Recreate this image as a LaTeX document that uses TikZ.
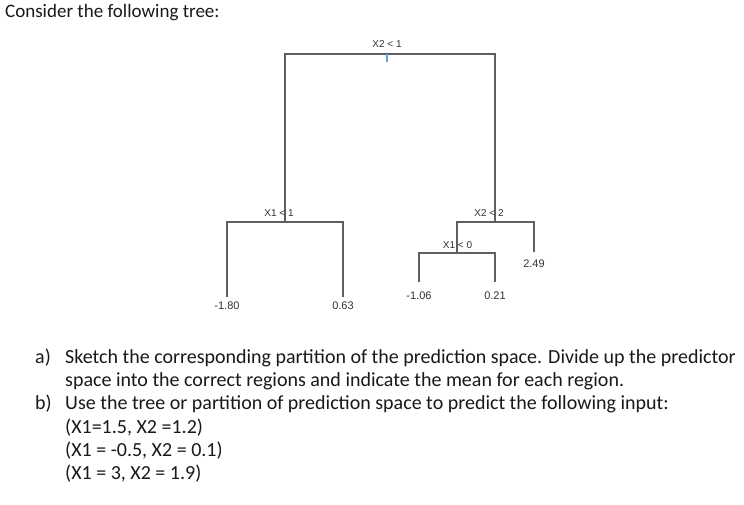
\documentclass[tikz,border=0pt]{standalone}
\usepackage{fontspec}
\setmainfont{Carlito}
\newfontfamily\treefont{Liberation Sans}
\usetikzlibrary{positioning}
\definecolor{branchgray}{HTML}{5F5F5F}
\definecolor{tickblue}{HTML}{6A9FD8}
\tikzset{
    x=1pt, y=-1pt, % one unit is one pixel of the page, y runs down
    branch/.style={draw=branchgray, line width=1.2pt}, % the lines of the tree
    tickmark/.style={draw=tickblue, line width=1.1pt}, % the little mark under the root
    split/.style={font=\treefont\fontsize{10}{12}\selectfont, text=black!80, inner sep=0pt, anchor=base}, % split rules
    leaf/.style={font=\treefont\fontsize{11}{12}\selectfont, text=black!80, inner sep=0pt}, % leaf means
    body/.style={font=\fontsize{20}{22}\selectfont, text=black!90, inner sep=0pt, anchor=base west}, % question text
}
\begin{document}
\begin{tikzpicture}
    \useasboundingbox[fill=white] (0,0) rectangle (744,505);
    % corners of the tree
    \coordinate (rootL) at (285,54);
    \coordinate (rootR) at (495,54);
    \coordinate (rootM) at (387,54);
    \coordinate (tickEnd) at (387,62);
    \coordinate (s1) at (285,222);
    \coordinate (s1L) at (227,222);
    \coordinate (s1R) at (343,222);
    \coordinate (leafA) at (227,297);
    \coordinate (leafB) at (343,297);
    \coordinate (s2) at (495,222);
    \coordinate (s2L) at (457,222);
    \coordinate (s2R) at (534,222);
    \coordinate (s3) at (457,253);
    \coordinate (s3L) at (419,253);
    \coordinate (s3R) at (495,253);
    \coordinate (leafC) at (419,282);
    \coordinate (leafD) at (495,282);
    \coordinate (leafE) at (534,252);
    \draw[branch] (s1) -- (rootL) -- (rootR) -- (s2);
    \draw[branch] (leafA) -- (s1L) -- (s1R) -- (leafB);
    \draw[branch] (s3) -- (s2L) -- (s2R) -- (leafE);
    \draw[branch] (leafC) -- (s3L) -- (s3R) -- (leafD);
    \draw[tickmark] (rootM) -- (tickEnd);
    % split rules
    \node[split] (ruleroot) at (387,48) {X2 < 1};
    \node[split] (ruleleft) at (279,217) {X1 < 1};
    \node[split] (ruleright) at (489,217) {X2 < 2};
    \node[split] (rulemid) at (457.5,248) {X1 < 0};
    % leaf means
    \node[leaf, below=5pt of leafA] (meanA) {-1.80};
    \node[leaf, below=5pt of leafB] (meanB) {0.63};
    \node[leaf, below=10pt of leafC] (meanC) {-1.06};
    \node[leaf, below=10pt of leafD] (meanD) {0.21};
    \node[leaf, below=8pt of leafE] (meanE) {2.49};
    % question text
    \node[body, font=\fontsize{19}{22}\selectfont] (intro) at (5,18) {Consider the following tree:};
    \node[body] (qa) at (35,363) {a)};
    \node[body] (qaone) at (65,363) {Sketch the corresponding partition of the prediction space. Divide up the predictor};
    \node[body] (qatwo) at (65,386) {space into the correct regions and indicate the mean for each region.};
    \node[body] (qb) at (35,409) {b)};
    \node[body] (qbone) at (65,409) {Use the tree or partition of prediction space to predict the following input:};
    \node[body] (inone) at (65,433) {(X1=1.5, X2 =1.2)};
    \node[body] (intwo) at (65,456) {(X1 = -0.5, X2 = 0.1)};
    \node[body] (inthree) at (65,479) {(X1 = 3, X2 = 1.9)};
\end{tikzpicture}
\end{document}
